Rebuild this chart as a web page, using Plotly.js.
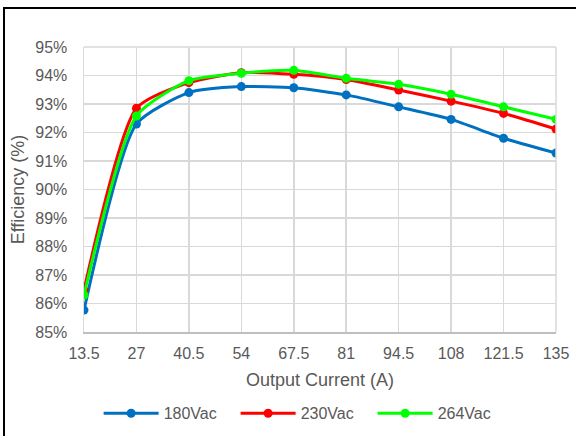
<!DOCTYPE html>
<html>
<head>
<meta charset="utf-8">
<script src="https://cdn.plot.ly/plotly-3.0.1.min.js"></script>
<style>
html,body{margin:0;padding:0;background:#fff;}
#wrap{position:relative;width:576px;height:436px;overflow:hidden;}
#chart{width:576px;height:436px;}
#frame{position:absolute;left:3px;top:7px;width:700px;height:600px;border-left:2px solid #000;border-top:2px solid #000;pointer-events:none;}
</style>
</head>
<body>
<div id="wrap"><div id="chart"></div><div id="frame"></div></div>
<script>
const current = [13.5, 27, 40.5, 54, 67.5, 81, 94.5, 108, 121.5, 135];
const eff180 = [85.77, 92.3, 93.4, 93.61, 93.57, 93.32, 92.9, 92.46, 91.8, 91.28];
const eff230 = [86.47, 92.85, 93.75, 94.1, 94.04, 93.86, 93.49, 93.1, 92.67, 92.12];
const eff264 = [86.3, 92.58, 93.82, 94.08, 94.18, 93.9, 93.69, 93.34, 92.9, 92.46];
const seriesNames = ['180Vac', '230Vac', '264Vac'];
const colors = ['#0070C0', '#FF0000', '#00FF00'];
const yTicks = [85, 86, 87, 88, 89, 90, 91, 92, 93, 94, 95];
const yTickText = yTicks.map(v => v + '%');

const data = [eff180, eff230, eff264].map((ys, i) => ({
  x: current, y: ys, name: seriesNames[i], type: 'scatter', mode: 'lines+markers',
  line: {color: colors[i], width: 3, shape: 'spline', smoothing: 0.6},
  marker: {color: colors[i], size: 9}
}));

const layout = {
  width: 576, height: 436,
  margin: {l: 84, r: 20, t: 47, b: 104},
  paper_bgcolor: '#fff', plot_bgcolor: '#fff',
  font: {family: 'Liberation Sans, Arial, sans-serif', color: '#595959', size: 16},
  xaxis: {
    range: [13.5, 135], tickvals: current, ticktext: current.map(String), automargin: false,
    showgrid: true, gridcolor: '#d9d9d9', gridwidth: 1.5,
    showline: true, linecolor: '#bfbfbf', linewidth: 1.5, zeroline: false,
    ticks: '', tickfont: {size: 16, color: '#595959'}, ticklabelstandoff: 6,
    title: {text: 'Output Current (A)', font: {size: 18, color: '#595959'}, standoff: 12}
  },
  yaxis: {
    range: [85, 95], tickvals: yTicks, ticktext: yTickText, automargin: false,
    showgrid: true, gridcolor: '#d9d9d9', gridwidth: 1.5,
    showline: true, linecolor: '#d9d9d9', linewidth: 1.5, zeroline: false,
    ticks: '', tickfont: {size: 16, color: '#595959'}, ticklabelstandoff: 12,
    title: {text: 'Efficiency (%)', font: {size: 18, color: '#595959'}, standoff: 6}
  },
  showlegend: true,
  legend: {orientation: 'h', xref: 'container', yref: 'container', x: 0.528, xanchor: 'center',
    y: 0.091, yanchor: 'top',
    font: {size: 16, color: '#595959'}, itemwidth: 55, entrywidth: 67, entrywidthmode: 'pixels',
    traceorder: 'normal'},
  shapes: [
    {type: 'line', xref: 'paper', yref: 'paper', x0: 1, x1: 1, y0: 0, y1: 1, line: {color: '#d9d9d9', width: 1.5}},
    {type: 'line', xref: 'paper', yref: 'paper', x0: 0, x1: 1, y0: 1, y1: 1, line: {color: '#d9d9d9', width: 1.5}}
  ]
};
Plotly.newPlot('chart', data, layout, {displayModeBar: false, staticPlot: true});
</script>
</body>
</html>
